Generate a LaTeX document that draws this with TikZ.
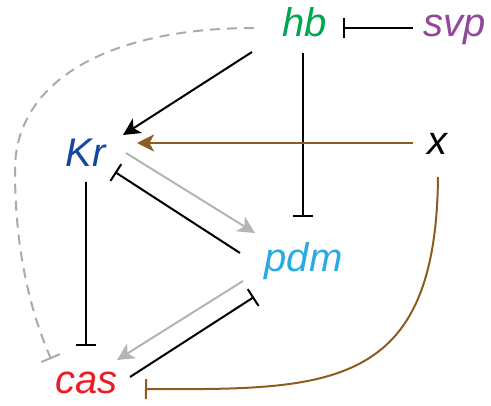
\documentclass[tikz,border=0pt]{standalone}
\usepackage{fontspec}
\setmainfont{Liberation Sans}
\usetikzlibrary{arrows.meta}
\definecolor{hbgreen}{RGB}{0,166,81}
\definecolor{svppurple}{RGB}{146,71,155}
\definecolor{krblue}{RGB}{21,71,161}
\definecolor{pdmcyan}{RGB}{41,171,226}
\definecolor{casred}{RGB}{237,28,36}
\definecolor{linkbrown}{RGB}{140,92,32}
\definecolor{arrgray}{RGB}{180,180,180}
\definecolor{dashgray}{RGB}{170,170,170}
\tikzset{
  gene/.style={inner sep=0pt, anchor=base, font=\fontsize{40}{48}\selectfont\itshape},
  link/.style={line width=2pt},
  act/.style={link, -{Stealth[length=17pt,width=17pt,inset=4.5pt]}},
  inh/.style={link, -{Bar[width=20pt]}},
}
\begin{document}
\begin{tikzpicture}[x=1pt,y=-1pt]
\useasboundingbox (0,0) rectangle (491,406);
\node[gene, text=hbgreen] (hb) at (305,37) {hb};
\node[gene, text=svppurple] (svp) at (455,37) {svp};
\node[gene, text=krblue] (Kr) at (86,167) {Kr};
\node[gene, text=black] (x) at (437,155) {x};
\node[gene, text=pdmcyan] (pdm) at (303.5,272) {pdm};
\node[gene, text=casred] (cas) at (86.5,394) {cas};
\coordinate (bend) at (15,170);
% svp -| hb
\draw[inh] ([shift={(-42,-9)}]svp.base) -- ([shift={(38,-9)}]hb.base);
% hb -> Kr
\draw[act] ([shift={(-53,15)}]hb.base) -- ([shift={(37,-32)}]Kr.base);
% hb -| pdm
\draw[inh] ([shift={(-2,16)}]hb.base) -- ([shift={(-0.5,-55)}]pdm.base);
% x -> Kr
\draw[act, linkbrown] ([shift={(-24,-12)}]x.base) -- ([shift={(51,-24)}]Kr.base);
% Kr -> pdm
\draw[act, arrgray] ([shift={(40,-14)}]Kr.base) -- ([shift={(-48.5,-39)}]pdm.base);
% pdm -| Kr
\draw[inh] ([shift={(-63.5,-19)}]pdm.base) -- ([shift={(29,5)}]Kr.base);
% Kr -| cas
\draw[inh] ([shift={(0,15)}]Kr.base) -- ([shift={(-0.5,-48)}]cas.base);
% pdm -> cas
\draw[act, arrgray] ([shift={(-60.5,9)}]pdm.base) -- ([shift={(30.5,-34)}]cas.base);
% cas -| pdm
\draw[inh] ([shift={(43.5,-17)}]cas.base) -- ([shift={(-49.5,25)}]pdm.base);
% x -| cas
\draw[inh, linkbrown] ([shift={(1,22)}]x.base) .. controls (436,390) and (330,390) .. ([shift={(58.5,-5)}]cas.base);
% hb -| cas (dashed)
\draw[inh, dashgray, dash pattern=on 10pt off 7pt] ([shift={(-51,-9)}]hb.base) .. controls (110,28) and (15,80) .. (bend) .. controls (15,250) and (30,310) .. ([shift={(-35.5,-35)}]cas.base);
\end{tikzpicture}
\end{document}
